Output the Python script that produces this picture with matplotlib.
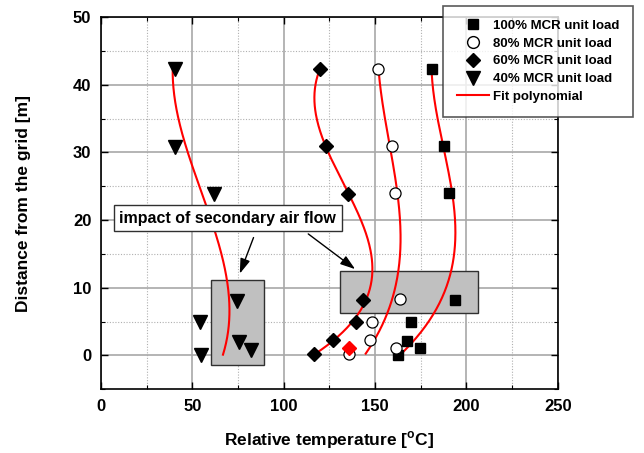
import numpy as np
import matplotlib.pyplot as plt
from matplotlib.ticker import MultipleLocator

plt.rcParams['font.family'] = ['Liberation Sans', 'DejaVu Sans']
plt.rcParams['font.weight'] = 'bold'

# Measured points: temperature [C] vs distance from the grid [m]
t100 = [180.9, 187.9, 190.7, 194.0, 169.7, 167.6, 174.5, 162.5]
d100 = [42.4, 31.0, 24.0, 8.2, 5.0, 2.1, 1.1, 0.0]

t80 = [151.7, 159.1, 160.8, 163.4, 148.1, 147.1, 135.8, 161.6]
d80 = [42.4, 31.0, 24.0, 8.3, 5.0, 2.2, 0.25, 1.1]

t60 = [119.8, 123.4, 135.2, 143.6, 139.8, 127.2, 116.7]
d60 = [42.4, 30.9, 23.9, 8.2, 5.0, 2.2, 0.25]

t40 = [40.3, 40.7, 61.8, 74.3, 54.4, 54.9, 75.4, 82.2]
d40 = [42.3, 30.8, 23.8, 8.0, 4.9, 0.1, 1.9, 0.8]

# highlighted 60% point
t60_red = [135.8]
d60_red = [1.1]


def fit_curve(t, d, deg=3):
    # fit temperature as polynomial of distance
    coef = np.polyfit(d, t, deg)
    yy = np.linspace(min(d), max(d), 200)
    return np.polyval(coef, yy), yy


fig = plt.figure(figsize=(6.44, 4.53), dpi=100)
ax = fig.add_axes([0.157, 0.141, 0.709, 0.821])

ax.set_xlim(0, 250)
ax.set_ylim(-5, 50)

# grid
ax.xaxis.set_major_locator(MultipleLocator(50))
ax.xaxis.set_minor_locator(MultipleLocator(25))
ax.yaxis.set_major_locator(MultipleLocator(10))
ax.yaxis.set_minor_locator(MultipleLocator(5))
ax.grid(True, which='major', color='#a8a8a8', lw=1.2, ls='-')
ax.grid(True, which='minor', color='#b0b0b0', lw=0.8, ls=(0, (1, 1.5)))
ax.set_axisbelow(True)
ax.tick_params(which='both', direction='in', top=True, right=True)
ax.tick_params(which='major', length=5, width=1, labelsize=12, pad=7)
ax.tick_params(which='minor', length=3, width=0.8)
for s in ax.spines.values():
    s.set_linewidth(1.2)
for lbl in ax.get_xticklabels() + ax.get_yticklabels():
    lbl.set_fontweight('bold')

# shaded regions
ax.add_patch(plt.Rectangle((60.4, -1.4), 28.7, 12.6, facecolor='#c0c0c0',
                           edgecolor='#303030', lw=1, zorder=2))
ax.add_patch(plt.Rectangle((130.7, 6.2), 75.6, 6.2, facecolor='#c0c0c0',
                           edgecolor='#303030', lw=1, zorder=2))

# fit curves
for t, d in [(t100, d100), (t80, d80), (t60, d60), (t40, d40)]:
    xx, yy = fit_curve(t, d)
    ax.plot(xx, yy, color='red', lw=1.5, zorder=3)

ms = 8
ax.plot(t100, d100, 's', color='black', ms=ms - 0.5, ls='none', zorder=4)
ax.plot(t80, d80, 'o', mfc='white', mec='black', mew=0.9, ms=ms, ls='none', zorder=4)
ax.plot(t60, d60, 'D', color='black', ms=ms - 1, ls='none', zorder=4)
ax.plot(t60_red, d60_red, 'D', color='red', ms=ms - 1, ls='none', zorder=5)
ax.plot(t40, d40, 'v', color='black', ms=ms + 1.5, ls='none', zorder=4)

# annotation
ax.text(69.3, 20.3, 'impact of secondary air flow', ha='center', va='center',
        fontsize=11.5, fontweight='bold', zorder=6,
        bbox=dict(boxstyle='square,pad=0.35', fc='white', ec='#303030', lw=1))
arrow = dict(arrowstyle='-|>,head_length=0.9,head_width=0.3', color='black', lw=1)
ax.annotate('', xy=(75.4, 11.7), xytext=(84.0, 17.8), arrowprops=arrow, zorder=6)
ax.annotate('', xy=(140.3, 12.5), xytext=(112.2, 18.2), arrowprops=arrow, zorder=6)

ax.set_xlabel('Relative temperature [$^{\\mathregular{o}}$C]', fontsize=12.5,
              fontweight='bold', labelpad=11)
ax.set_ylabel('Distance from the grid [m]', fontsize=12.5, fontweight='bold',
              labelpad=30)

# legend
h = [
    plt.Line2D([], [], marker='s', color='black', ls='none', ms=7.5),
    plt.Line2D([], [], marker='o', mfc='white', mec='black', ls='none', ms=8.5),
    plt.Line2D([], [], marker='D', color='black', ls='none', ms=7.5),
    plt.Line2D([], [], marker='v', color='black', ls='none', ms=9.5),
    plt.Line2D([], [], color='red', lw=1.5),
]
labels = ['100% MCR unit load', '80% MCR unit load', '60% MCR unit load',
          '40% MCR unit load', 'Fit polynomial']
leg = fig.legend(h, labels, loc='upper left', bbox_to_anchor=(443 / 644, 1 - 5.7 / 453),
                 borderaxespad=0, frameon=True, fancybox=False, edgecolor='#303030',
                 prop={'size': 9.5, 'weight': 'bold'}, labelspacing=0.42,
                 handlelength=2.4, handletextpad=0.35, borderpad=1.05)
leg.get_frame().set_linewidth(1.2)
leg.set_zorder(10)

fig.savefig('out.png', dpi=100)
